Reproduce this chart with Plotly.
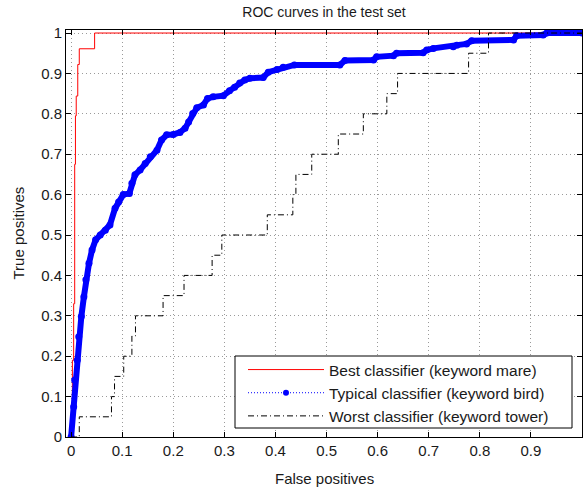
import plotly.graph_objects as go

# ---- data ----
best_x = [0, 0.0025, 0.005, 0.007, 0.0085, 0.010, 0.013, 0.016, 0.046, 1.0]
best_y = [0, 0.0, 0.19, 0.33, 0.675, 0.795, 0.844, 0.922, 0.961, 1.0]

typ_x = [0, 0.005, 0.007, 0.012, 0.015, 0.020, 0.025, 0.029, 0.035, 0.041, 0.048,
         0.057, 0.067, 0.076, 0.086, 0.093, 0.102, 0.114, 0.119, 0.125, 0.135,
         0.145, 0.155, 0.168, 0.177, 0.187, 0.200, 0.213, 0.223, 0.230, 0.238,
         0.246, 0.259, 0.267, 0.278, 0.298, 0.310, 0.320, 0.330, 0.340, 0.350,
         0.376, 0.386, 0.403, 0.415, 0.437, 0.526, 0.536, 0.592, 0.598, 0.631,
         0.637, 0.689, 0.696, 0.709, 0.748, 0.755, 0.774, 0.784, 0.866, 0.872,
         0.924, 0.931, 1.0]
typ_y = [0, 0.075, 0.141, 0.190, 0.248, 0.298, 0.347, 0.389, 0.430, 0.463, 0.488,
         0.500, 0.512, 0.525, 0.566, 0.582, 0.600, 0.603, 0.628, 0.649, 0.661,
         0.677, 0.694, 0.710, 0.735, 0.748, 0.749, 0.754, 0.764, 0.780, 0.801,
         0.815, 0.822, 0.838, 0.842, 0.845, 0.857, 0.866, 0.876, 0.884, 0.888,
         0.890, 0.903, 0.910, 0.915, 0.921, 0.921, 0.932, 0.933, 0.941, 0.944,
         0.950, 0.951, 0.958, 0.962, 0.966, 0.970, 0.973, 0.981, 0.983, 0.993,
         0.995, 1.0, 1.0]

worst_x = [0, 0.016, 0.079, 0.085, 0.103, 0.119, 0.126, 0.180, 0.221, 0.276, 0.295,
           0.384, 0.434, 0.440, 0.471, 0.523, 0.572, 0.618, 0.639, 0.778, 0.817, 1.0]
worst_y = [0, 0.0, 0.05, 0.10, 0.15, 0.20, 0.25, 0.30, 0.35, 0.40, 0.45,
           0.50, 0.55, 0.60, 0.65, 0.70, 0.75, 0.80, 0.85, 0.90, 0.95, 1.0]

tick_vals = [0, 0.1, 0.2, 0.3, 0.4, 0.5, 0.6, 0.7, 0.8, 0.9, 1]
tick_text = ["0", "0.1", "0.2", "0.3", "0.4", "0.5", "0.6", "0.7", "0.8", "0.9", "1"]

names = ["Best classifier (keyword mare)",
         "Typical classifier (keyword bird)",
         "Worst classifier (keyword tower)"]

FONT = "Liberation Sans, Arial, sans-serif"
TXT = "#1a1a1a"

# plot-area geometry in pixels (used to place legend frame / titles)
L, R, T, B = 66, 582, 30, 437
PW, PH = R - L, B - T

def px_x(p):
    return (p - L) / PW

def px_y(p):
    return (B - p) / PH

fig = go.Figure()
fig.add_trace(go.Scatter(x=best_x, y=best_y, mode="lines", line_shape="vh",
                         line=dict(color="#ff0000", width=1), name=names[0]))
fig.add_trace(go.Scatter(x=typ_x, y=typ_y, mode="lines+markers",
                         line=dict(color="#0000ff", width=6),
                         marker=dict(color="#0000ff", size=7),
                         showlegend=False, name=names[1]))
fig.add_trace(go.Scatter(x=[None], y=[None], mode="lines+markers",
                         line=dict(color="#0000ff", width=1, dash="1px,2px"),
                         marker=dict(color="#0000ff", size=6), name=names[1]))
fig.add_trace(go.Scatter(x=worst_x, y=worst_y, mode="lines", line_shape="vh",
                         line=dict(color="black", width=1, dash="6px,3px,1px,3px"),
                         name=names[2]))

axis_common = dict(
    tickvals=tick_vals, ticktext=tick_text,
    ticks="inside", ticklen=5, tickcolor="black", tickwidth=1,
    showline=True, linecolor="black", linewidth=1, mirror="allticks",
    showgrid=True, gridcolor="#9a9a9a", gridwidth=1, griddash="1px,3px",
    zeroline=False, automargin=False,
    tickfont=dict(family=FONT, size=15, color=TXT),
)

fig.update_layout(
    template="none",
    width=584, height=488,
    margin=dict(l=L, r=584 - R, t=T, b=488 - B, autoexpand=False),
    paper_bgcolor="white", plot_bgcolor="white",
    title=dict(text="ROC curves in the test set", x=0.5, xref="paper",
               xanchor="center", y=1 - 12 / 488, yanchor="middle",
               font=dict(family=FONT, size=14, color=TXT)),
    xaxis=dict(range=[-0.01, 1.0], **axis_common),
    yaxis=dict(range=[0, 1.0075], **axis_common),
    showlegend=True,
    legend=dict(x=px_x(243), y=px_y(353), xanchor="left", yanchor="top",
                bgcolor="rgba(0,0,0,0)", borderwidth=0,
                itemwidth=76, font=dict(family=FONT, size=15.5, color=TXT),
                tracegroupgap=0),
    shapes=[
        dict(type="rect", xref="paper", yref="paper",
             x0=px_x(235), x1=px_x(572), y0=px_y(428), y1=px_y(356),
             fillcolor="white", line=dict(color="black", width=1), layer="above"),
    ],
    annotations=[
        dict(text="False positives", xref="paper", yref="paper",
             x=0.5, y=px_y(478), xanchor="center", yanchor="middle",
             showarrow=False, font=dict(family=FONT, size=15, color=TXT)),
        dict(text="True positives", xref="paper", yref="paper",
             x=px_x(18), y=0.5, xanchor="center", yanchor="middle",
             textangle=-90, showarrow=False,
             font=dict(family=FONT, size=15, color=TXT)),
    ],
)

fig.write_html("out.html", config={"displayModeBar": False})

# remove the default page margin so the figure sits at the window's top-left corner
with open("out.html", "r", encoding="utf-8") as f:
    html = f.read()
html = html.replace("<head>", "<head><style>html,body{margin:0;padding:0;overflow:hidden;}</style>", 1)
with open("out.html", "w", encoding="utf-8") as f:
    f.write(html)
